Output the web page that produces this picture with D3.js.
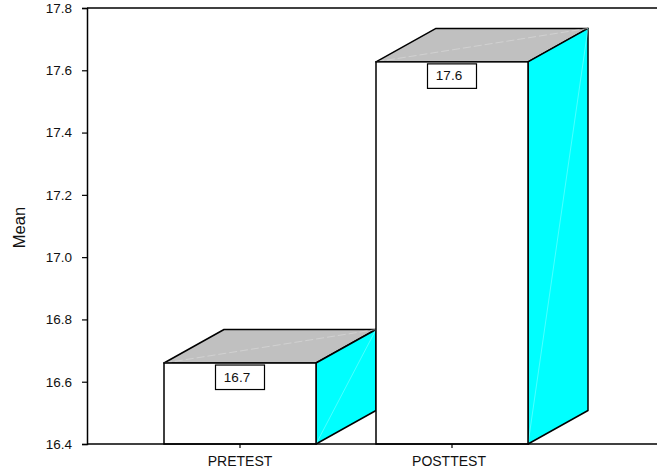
<!DOCTYPE html>
<html>
<head>
<meta charset="utf-8">
<script src="https://cdn.jsdelivr.net/npm/d3@7"></script>
<style>
  html, body { margin: 0; padding: 0; background: #fff; }
  svg { display: block; }
  text { font-family: "Liberation Sans", Arial, sans-serif; fill: #111; }
</style>
</head>
<body>
<div id="chart"></div>
<script>
// values
var categories = ["PRETEST", "POSTTEST"];
var means = [16.66, 17.627];
var yTicks = [16.4, 16.6, 16.8, 17.0, 17.2, 17.4, 17.6, 17.8];

var W = 657, H = 474;
var left = 87, right = 657, top_ = 8, bottom = 444;
var depthX = 60, depthY = 33.5;

var svg = d3.select("#chart").append("svg")
    .attr("width", W)
    .attr("height", H);

var y = d3.scaleLinear().domain([16.4, 17.8]).range([bottom, top_]);

// band scale set up so bars land at 164-316 and 376-528
var x = d3.scaleBand()
    .domain(categories)
    .range([164 - 30, 528 + 30])
    .paddingInner(60 / 212)
    .paddingOuter(30 / 212);

var bw = x.bandwidth();

var bars = svg.selectAll(".bar")
    .data(categories)
    .enter()
    .append("g")
    .attr("class", "bar");

function poly(pts) {
    return d3.line()(pts) + "Z";
}

// top face
bars.append("path")
    .attr("d", function(d, i) {
        var x0 = x(d), yy = y(means[i]);
        return poly([[x0, yy], [x0 + depthX, yy - depthY], [x0 + bw + depthX, yy - depthY], [x0 + bw, yy]]);
    })
    .attr("fill", "#c0c0c0")
    .attr("stroke", "#000")
    .attr("stroke-width", 1.5)
    .attr("stroke-linejoin", "round");

// side face
bars.append("path")
    .attr("d", function(d, i) {
        var x1 = x(d) + bw, yy = y(means[i]);
        return poly([[x1, yy], [x1 + depthX, yy - depthY], [x1 + depthX, bottom - depthY], [x1, bottom]]);
    })
    .attr("fill", "#00ffff")
    .attr("stroke", "#000")
    .attr("stroke-width", 1.5)
    .attr("stroke-linejoin", "round");

// faint seams where the faces were split into triangles
bars.append("line")
    .attr("x1", function(d) { return x(d); })
    .attr("y1", function(d, i) { return y(means[i]); })
    .attr("x2", function(d) { return x(d) + bw + depthX; })
    .attr("y2", function(d, i) { return y(means[i]) - depthY; })
    .attr("stroke", "#dcdcdc")
    .attr("stroke-width", 0.6)
    .attr("stroke-dasharray", "8,3");

bars.append("line")
    .attr("x1", function(d) { return x(d) + bw; })
    .attr("y1", bottom)
    .attr("x2", function(d) { return x(d) + bw + depthX; })
    .attr("y2", function(d, i) { return y(means[i]) - depthY; })
    .attr("stroke", "#7fffff")
    .attr("stroke-width", 0.6);

// front face
bars.append("rect")
    .attr("x", function(d) { return x(d); })
    .attr("y", function(d, i) { return y(means[i]); })
    .attr("width", bw)
    .attr("height", function(d, i) { return bottom - y(means[i]); })
    .attr("fill", "#fff")
    .attr("stroke", "#000")
    .attr("stroke-width", 1.5);

// value boxes
bars.append("rect")
    .attr("x", function(d) { return x(d) + bw / 2 - 24.5; })
    .attr("y", function(d, i) { return y(means[i]) + 2; })
    .attr("width", 49)
    .attr("height", 24.5)
    .attr("fill", "#fff")
    .attr("stroke", "#000")
    .attr("stroke-width", 1.2);

bars.append("text")
    .attr("x", function(d) { return x(d) + bw / 2 - 3; })
    .attr("y", function(d, i) { return y(means[i]) + 18.5; })
    .attr("text-anchor", "middle")
    .attr("font-size", 13.5)
    .text(function(d, i) { return d3.format(".1f")(means[i]); });

// frame lines on top and bottom
svg.append("line")
    .attr("x1", left).attr("x2", right)
    .attr("y1", top_).attr("y2", top_)
    .attr("stroke", "#000").attr("stroke-width", 1.5);

svg.append("line")
    .attr("x1", left).attr("x2", right)
    .attr("y1", bottom).attr("y2", bottom)
    .attr("stroke", "#000").attr("stroke-width", 1.5);

// Y axis
var yAxis = svg.append("g")
    .attr("transform", "translate(" + left + ",0)")
    .call(d3.axisLeft(y).tickValues(yTicks).tickFormat(d3.format(".1f")).tickSize(5).tickPadding(10));
yAxis.select(".domain").attr("stroke", "#000").attr("stroke-width", 1.5);
yAxis.selectAll(".tick line").attr("stroke", "#000").attr("stroke-width", 1.2);
yAxis.selectAll("text").attr("font-size", 13.5).attr("font-family", "Liberation Sans, Arial, sans-serif");

// X axis
var xAxis = svg.append("g")
    .attr("transform", "translate(0," + bottom + ")")
    .call(d3.axisBottom(x).tickSize(4).tickPadding(8));
xAxis.select(".domain").remove();
xAxis.selectAll(".tick line").attr("stroke", "#000").attr("stroke-width", 1.2);
xAxis.selectAll("text")
    .attr("font-size", 14)
    .attr("font-family", "Liberation Sans, Arial, sans-serif")
    .attr("dx", function(d, i) { return i === 1 ? -3 : 0; });

// Y title
svg.append("text")
    .attr("transform", "translate(25,227.5) rotate(-90)")
    .attr("text-anchor", "middle")
    .attr("font-size", 16.5)
    .text("Mean");
</script>
</body>
</html>
